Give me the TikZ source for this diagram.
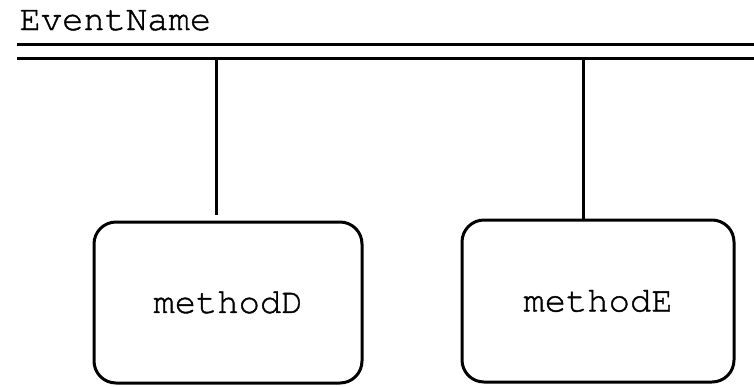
\documentclass[tikz,border=0pt]{standalone}
\usepackage{fontspec}
\setmonofont[FakeBold=1.2]{texgyrecursor-regular.otf}
\usetikzlibrary{positioning}

\begin{document}
\begin{tikzpicture}[x=1pt,y=-1pt,line width=3pt,font=\ttfamily\fontsize{35.5}{40}\selectfont]
\useasboundingbox (0,0) rectangle (754,386);

\tikzset{
% Two node styles: the event label and the method boxes
event node/.style={inner sep=0,anchor=base west},
method node/.style={draw,rounded corners=22pt,inner sep=0,minimum width=268pt,minimum height=161pt}
}

% The event bus
\node(event)[event node] at (18,30) {EventName};
\coordinate (bus west) at (17,51);
\coordinate (bus east) at (754,51);
\draw[double distance=11pt] (bus west) -- (bus east);

% The methods
\node(methodD)[method node] at (228,302.5) {methodD};
\node(methodE)[method node,minimum width=272pt,minimum height=162pt,right=97pt of methodD,yshift=1.5pt] {methodE};

% Taps from the bus down to each method
\coordinate (tapD) at (216,58);
\coordinate (tapE) at (583,58);
\draw[shorten >=6pt] (tapD) -- (tapD |- methodD.north);
\draw (tapE) -- (tapE |- methodE.north);

\end{tikzpicture}
\end{document}
